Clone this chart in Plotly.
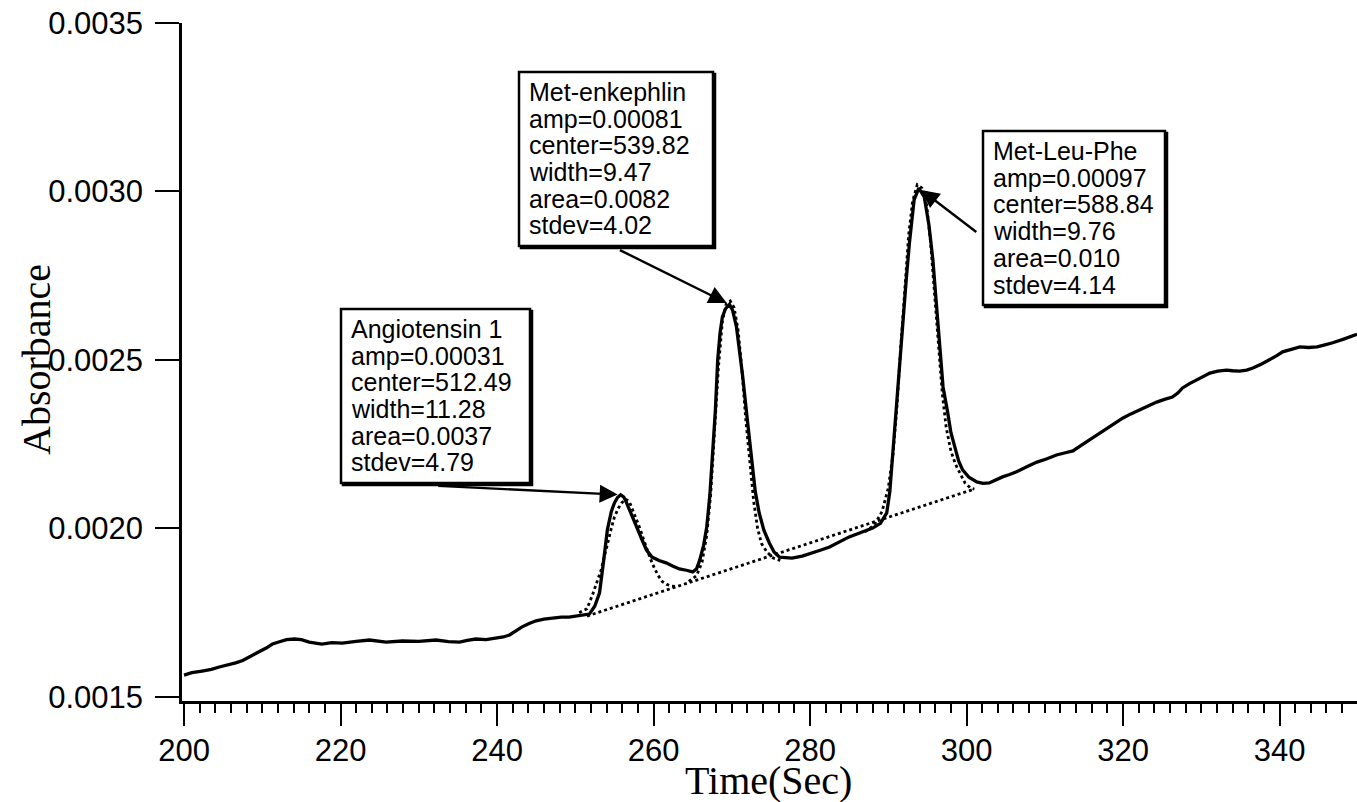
import plotly.graph_objects as go

# ---- measured trace: absorbance vs time ----
time_s = [200.0, 201.0, 202.3, 203.5, 204.5, 205.6, 206.6, 207.5, 208.3, 209.4,
          210.5, 211.3, 212.1, 213.1, 214.1, 215.0, 216.0, 217.0, 217.6, 218.9,
          220.2, 222.0, 223.7, 225.8, 227.9, 230.0, 232.2, 233.8, 235.2, 236.2,
          237.3, 238.6, 239.9, 240.8, 241.6, 242.4, 243.2, 244.1, 245.0, 246.0,
          247.1, 248.2, 249.2, 250.5, 251.8, 252.5, 253.1, 253.6, 254.1, 254.6,
          255.0, 255.4, 255.8, 256.2, 256.5, 257.2, 257.8, 258.5, 259.1, 259.8,
          260.7, 261.6, 262.5, 263.3, 264.2, 265.0, 265.5, 265.9, 266.4, 266.8,
          267.2, 267.5, 267.9, 268.2, 268.5, 268.8, 269.2, 269.7, 270.1, 270.6,
          271.0, 271.4, 272.0, 272.5, 273.0, 273.5, 274.1, 274.8, 275.4, 276.1,
          277.0, 277.7, 279.0, 280.3, 281.4, 282.5, 283.8, 285.0, 286.5, 288.0,
          289.0, 289.8, 290.2, 290.5, 291.0, 291.4, 291.8, 292.3, 292.7, 293.3,
          293.9, 294.6, 295.2, 295.7, 296.1, 296.5, 297.0, 297.6, 298.0, 298.5,
          299.0, 299.5, 300.3, 301.3, 302.1, 302.9, 303.7, 304.6, 305.5, 306.4,
          307.7, 309.0, 310.2, 311.5, 312.5, 313.6, 314.6, 315.7, 316.8, 317.9,
          319.0, 320.0, 321.0, 322.1, 323.2, 324.3, 325.3, 326.3, 327.0, 327.6,
          328.5, 329.4, 330.3, 331.1, 332.1, 333.2, 334.0, 334.9, 335.8, 336.6,
          337.7, 338.7, 339.6, 340.4, 341.5, 342.6, 343.7, 344.8, 345.8, 346.8,
          348.2, 349.9]
absorbance = [0.001565, 0.001572, 0.001577, 0.001582, 0.001589, 0.001594, 0.001601, 0.001608, 0.001619, 0.001632,
              0.001645, 0.001657, 0.001663, 0.001670, 0.001672, 0.001670, 0.001663, 0.001659, 0.001657, 0.001661,
              0.001660, 0.001665, 0.001669, 0.001663, 0.001666, 0.001665, 0.001669, 0.001664, 0.001663, 0.001668,
              0.001672, 0.001670, 0.001675, 0.001678, 0.001684, 0.001697, 0.001708, 0.001718, 0.001726, 0.001731,
              0.001734, 0.001737, 0.001737, 0.001741, 0.001746, 0.001770, 0.001809, 0.001900, 0.001996, 0.002050,
              0.002076, 0.002092, 0.002100, 0.002093, 0.002079, 0.002040, 0.002004, 0.001968, 0.001936, 0.001915,
              0.001905, 0.001898, 0.001888, 0.001880, 0.001876, 0.001871, 0.001880, 0.001906, 0.001950, 0.002004,
              0.002100, 0.002203, 0.002350, 0.002500, 0.002580, 0.002628, 0.002652, 0.002665, 0.002648, 0.002598,
              0.002530, 0.002450, 0.002320, 0.002203, 0.002110, 0.002046, 0.001995, 0.001957, 0.001930, 0.001915,
              0.001912, 0.001912, 0.001918, 0.001927, 0.001936, 0.001945, 0.001960, 0.001975, 0.001988, 0.002001,
              0.002015, 0.002046, 0.002110, 0.002203, 0.002352, 0.002470, 0.002598, 0.002740, 0.002847, 0.002975,
              0.003010, 0.002984, 0.002900, 0.002797, 0.002680, 0.002550, 0.002420, 0.002343, 0.002285, 0.002242,
              0.002200, 0.002174, 0.002152, 0.002138, 0.002134, 0.002135, 0.002144, 0.002153, 0.002160, 0.002168,
              0.002183, 0.002197, 0.002206, 0.002218, 0.002224, 0.002230, 0.002246, 0.002263, 0.002281, 0.002298,
              0.002313, 0.002328, 0.002340, 0.002352, 0.002364, 0.002375, 0.002383, 0.002390, 0.002402, 0.002417,
              0.002430, 0.002441, 0.002452, 0.002461, 0.002467, 0.002470, 0.002468, 0.002467, 0.002470, 0.002476,
              0.002488, 0.002500, 0.002512, 0.002524, 0.002532, 0.002539, 0.002537, 0.002539, 0.002545, 0.002551,
              0.002562, 0.002576]

# ---- fitted baseline under the three peaks ----
baseline_t = [251.5, 301.0]
baseline_v = [0.001740, 0.002117]

# ---- Gaussian fits (dotted) ----
fit1_t = [250.5, 251.5, 252.2, 252.8, 253.3, 253.7, 254.1, 254.6, 255.0, 255.5, 255.9, 256.4,
          256.9, 257.3, 257.8, 258.2, 258.7, 259.1, 259.6, 260.1, 260.6, 261.1, 261.7, 262.3, 263.0]
fit1_v = [0.001750, 0.001762, 0.001803, 0.001840, 0.001877, 0.001915, 0.001957, 0.002000, 0.002034, 0.002060, 0.002075, 0.002087,
          0.002080, 0.002058, 0.002030, 0.002004, 0.001970, 0.001942, 0.001910, 0.001883, 0.001860, 0.001843, 0.001834, 0.001829, 0.001828]

fit2_t = [264.5, 265.5, 266.2, 266.8, 267.3, 267.8, 268.3, 268.8, 269.3, 269.8, 270.3, 270.8,
          271.3, 271.8, 272.3, 272.8, 273.3, 273.8, 274.5, 275.3, 276.2]
fit2_v = [0.001843, 0.001860, 0.001900, 0.001980, 0.002100, 0.002280, 0.002480, 0.002615, 0.002668, 0.002675, 0.002655, 0.002590,
          0.002470, 0.002320, 0.002190, 0.002080, 0.002000, 0.001955, 0.001930, 0.001912, 0.001905]

fit3_t = [287.0, 288.2, 289.2, 290.0, 290.6, 291.1, 291.6, 292.1, 292.6, 293.1, 293.7, 294.3,
          294.9, 295.4, 295.9, 296.4, 296.9, 297.4, 298.0, 298.6, 299.2, 299.8, 300.5, 301.0]
fit3_v = [0.001990, 0.002010, 0.002050, 0.002120, 0.002220, 0.002360, 0.002540, 0.002720, 0.002870, 0.002970, 0.003020, 0.003010,
          0.002960, 0.002850, 0.002700, 0.002540, 0.002400, 0.002300, 0.002230, 0.002190, 0.002160, 0.002135, 0.002120, 0.002117]

# ---- peak labels ----
peak_names = ["Angiotensin 1", "Met-enkephlin", "Met-Leu-Phe"]
peak_amp = ["0.00031", "0.00081", "0.00097"]
peak_center = ["512.49", "539.82", "588.84"]
peak_width = ["11.28", "9.47", "9.76"]
peak_area = ["0.0037", "0.0082", "0.010"]
peak_stdev = ["4.79", "4.02", "4.14"]
peak_t = [255.8, 269.7, 293.9]
peak_v = [0.00210, 0.002665, 0.00301]

x_ticks = [200, 220, 240, 260, 280, 300, 320, 340]
y_ticks = [0.0015, 0.0020, 0.0025, 0.0030, 0.0035]
y_ticktext = ["0.0015", "0.0020", "0.0025", "0.0030", "0.0035"]

# ---- figure geometry (pixels) ----
W, H = 1357, 802
PL, PR, PT, PB = 182, 1357, 23, 701


def px(xp):
    return (xp - PL) / (PR - PL)


def py(yp):
    return (PB - yp) / (PB - PT)


fig = go.Figure()

dot_style = dict(color="black", width=2.8, dash="dot")
fig.add_trace(go.Scatter(x=baseline_t, y=baseline_v, mode="lines", line=dot_style, hoverinfo="skip"))
for ft, fv in [(fit1_t, fit1_v), (fit2_t, fit2_v), (fit3_t, fit3_v)]:
    fig.add_trace(go.Scatter(x=ft, y=fv, mode="lines", line=dot_style, hoverinfo="skip"))
fig.add_trace(go.Scatter(x=time_s, y=absorbance, mode="lines",
                         line=dict(color="black", width=3.3), hoverinfo="skip"))

# label boxes: (left, top, right, bottom) in pixels, arrow tail offset from apex
boxes = [(341, 309, 530, 483), (519, 72, 713, 246), (983, 131, 1165, 305)]
arrow_offsets = [(-184, -9), (-111, -55), (59, 45)]
line_gap = 26.7
text_font = dict(family="Liberation Sans, Arial, sans-serif", size=25, color="black")

shapes = []
annotations = []
for i, (l, t, r, b) in enumerate(boxes):
    # heavier lower/right edge, as a slight drop shadow
    shapes.append(dict(type="rect", xref="paper", yref="paper",
                       x0=px(l + 2), x1=px(r + 2), y0=py(b + 2), y1=py(t + 2),
                       line=dict(color="black", width=2.5), fillcolor="black", layer="above"))
    shapes.append(dict(type="rect", xref="paper", yref="paper",
                       x0=px(l), x1=px(r), y0=py(b), y1=py(t),
                       line=dict(color="black", width=2.5), fillcolor="white", layer="above"))
    lines = [peak_names[i], "amp=" + peak_amp[i], "center=" + peak_center[i],
             "width=" + peak_width[i], "area=" + peak_area[i], "stdev=" + peak_stdev[i]]
    for k, s in enumerate(lines):
        annotations.append(dict(xref="paper", yref="paper", x=px(l + 8), y=py(t + 20 + k * line_gap),
                                text=s, showarrow=False, xanchor="left", yanchor="middle",
                                font=text_font))
    ax, ay = arrow_offsets[i]
    annotations.append(dict(x=peak_t[i], y=peak_v[i], xref="x", yref="y", text="",
                            showarrow=True, ax=ax, ay=ay, arrowhead=2, arrowsize=1.5,
                            arrowwidth=2.4, arrowcolor="black", standoff=3))

# axis titles
serif = dict(family="Liberation Serif, Times New Roman, serif", size=40, color="black")
annotations.append(dict(xref="paper", yref="paper", x=px(768), y=py(781), text="Time(Sec)",
                        showarrow=False, xanchor="center", yanchor="middle", font=serif))
annotations.append(dict(xref="paper", yref="paper", x=px(36), y=py(360), text="Absorbance",
                        showarrow=False, xanchor="center", yanchor="middle", textangle=-90, font=serif))

tick_font = dict(family="Liberation Sans, Arial, sans-serif", size=31, color="black")

fig.update_layout(
    width=W, height=H,
    margin=dict(l=PL, r=W - PR, t=PT, b=H - PB, pad=0),
    paper_bgcolor="white", plot_bgcolor="white",
    showlegend=False,
    shapes=shapes, annotations=annotations,
    xaxis=dict(range=[199.74, 349.9], tickvals=x_ticks, ticks="outside", ticklen=22, tickwidth=2.2,
               tickcolor="black", showline=True, linewidth=3.2, linecolor="black", showgrid=False,
               zeroline=False, tickfont=tick_font, ticklabelstandoff=-2,
               minor=dict(dtick=2, tick0=200, ticks="outside", ticklen=9, tickwidth=2, tickcolor="black",
                          showgrid=False)),
    yaxis=dict(range=[0.001488, 0.0035], tickvals=y_ticks, ticktext=y_ticktext, ticks="outside",
               ticklen=24, tickwidth=2.2, tickcolor="black", showline=True, linewidth=2.5,
               linecolor="black", showgrid=False, zeroline=False, tickfont=tick_font,
               ticklabelstandoff=6),
)

fig.write_html("out.html")
